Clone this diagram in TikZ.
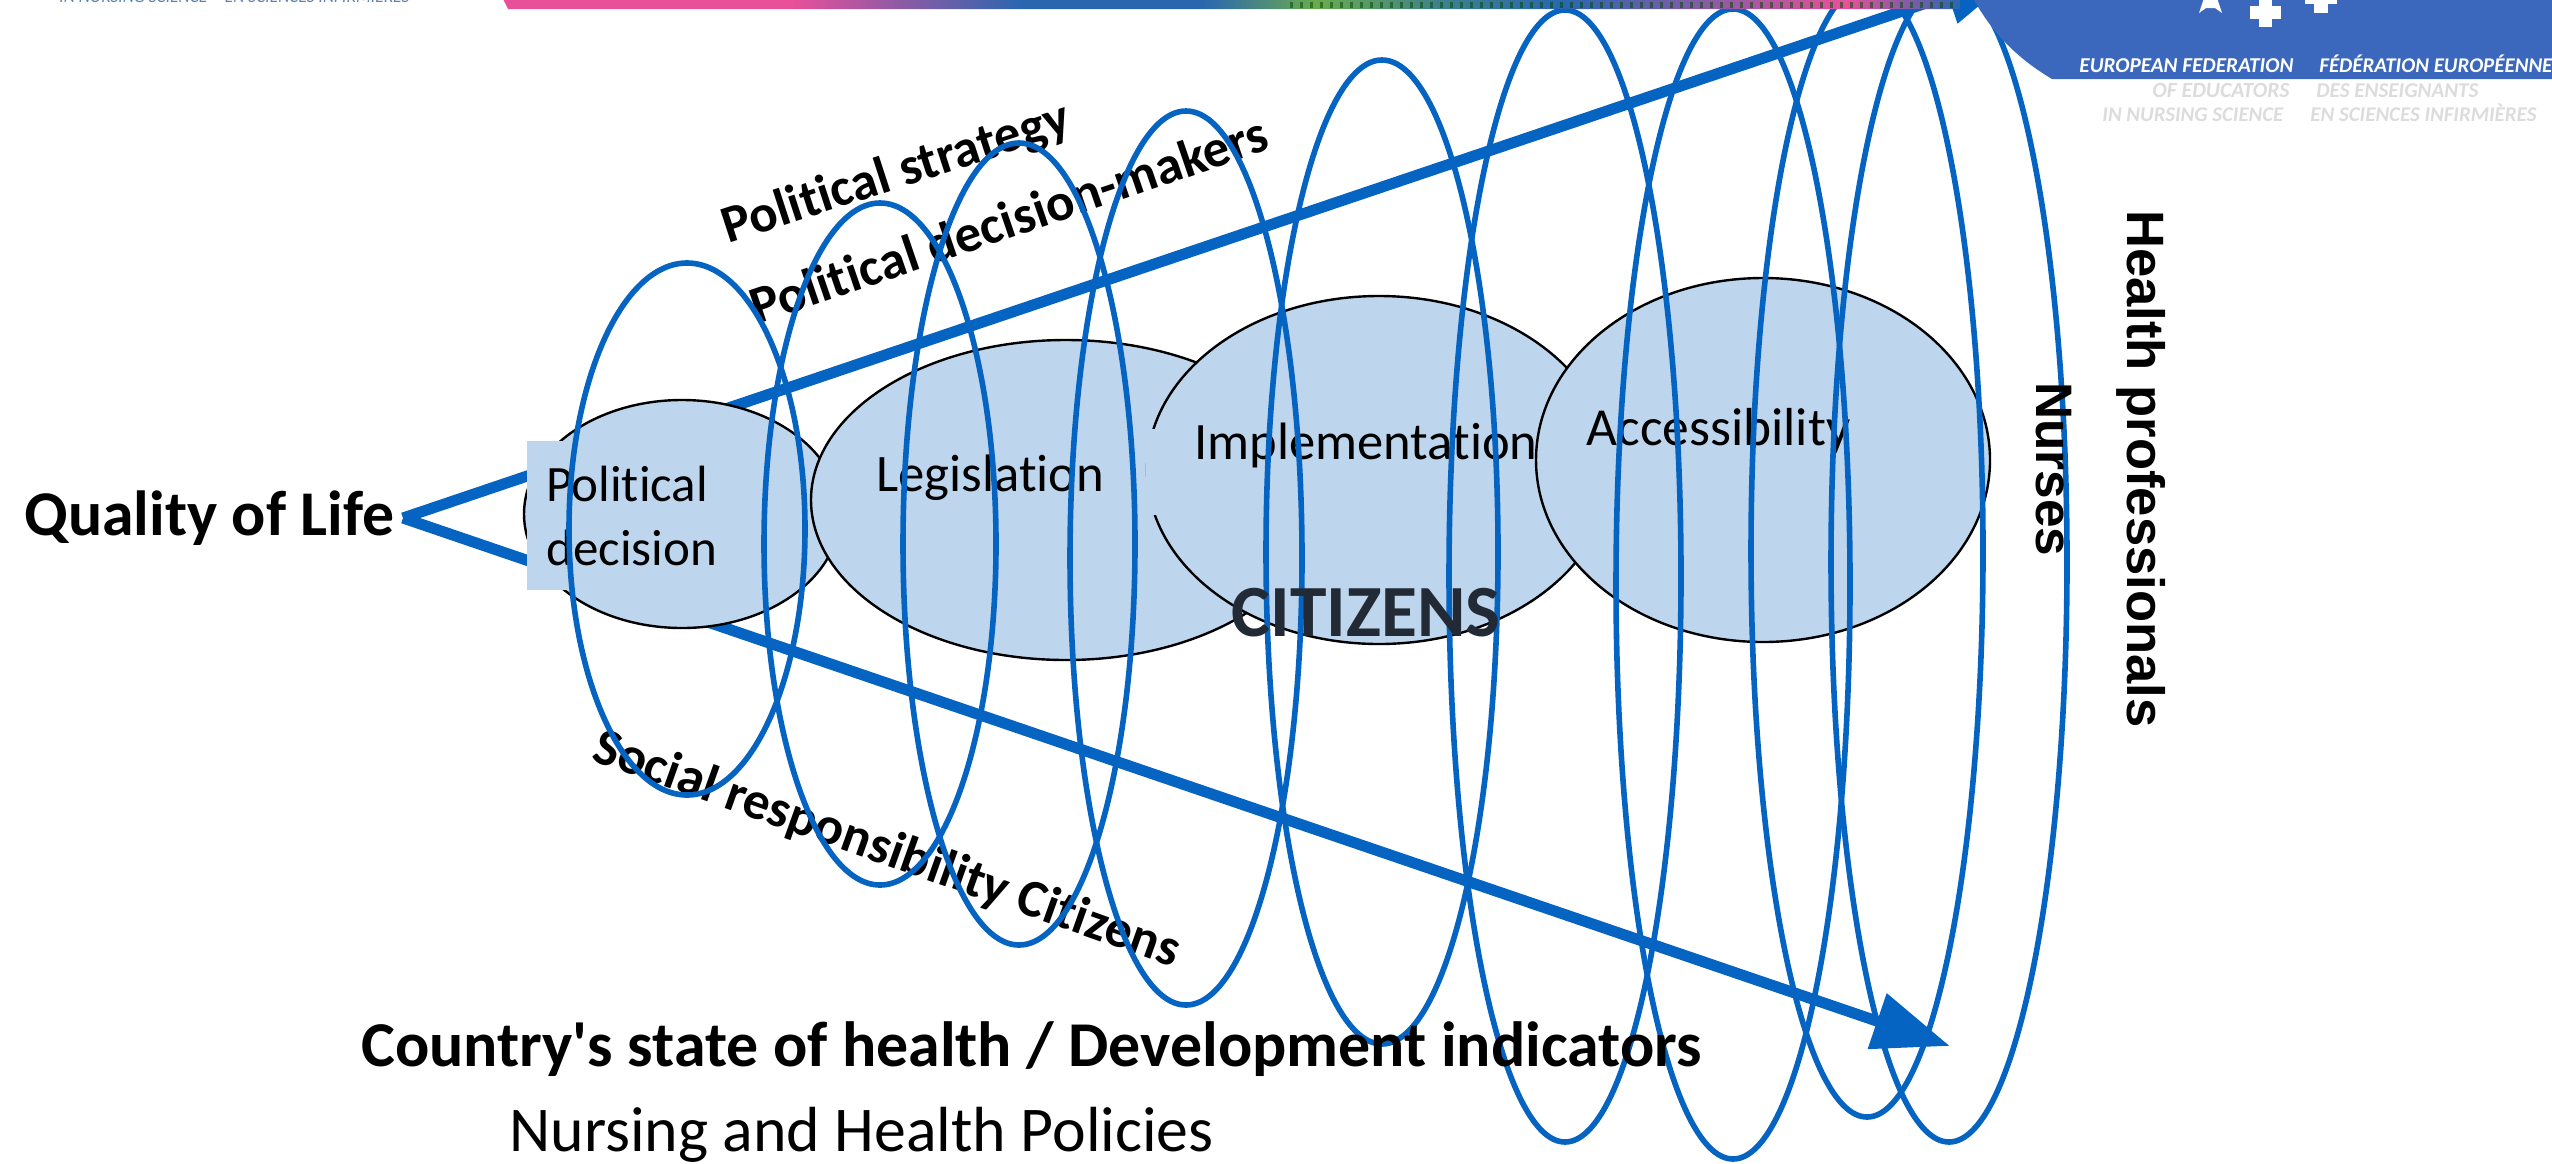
\documentclass[tikz,border=0pt]{standalone}
\usepackage{fontspec}
\usetikzlibrary{shapes.geometric,arrows.meta,shadings}
\defaultfontfeatures[\rmfamily]{Ligatures=NoCommon}
\setmainfont{Carlito}
\newfontfamily\arialfont{Liberation Sans}
\definecolor{ringblue}{HTML}{0563C1}
\definecolor{bubblefill}{HTML}{BDD6EE}
\definecolor{logoblue}{HTML}{3B68BC}
\definecolor{citizenink}{HTML}{222B35}
\definecolor{capblue}{HTML}{5E82AE}
\definecolor{ghostgrey}{HTML}{DCDCDC}
\definecolor{barpink}{HTML}{E8509A}
\definecolor{barblue}{HTML}{2A66B0}
\definecolor{bargreen}{HTML}{6BAA4F}
\definecolor{barteal}{HTML}{3F7F8F}
\pgfdeclarehorizontalshading{barshade}{100bp}{color(0bp)=(barpink); color(34.9bp)=(barpink); color(42.8bp)=(barblue); color(49bp)=(barblue); color(52.9bp)=(bargreen); color(57.3bp)=(barteal); color(61.4bp)=(barblue); color(71.1bp)=(barpink); color(75bp)=(barblue); color(100bp)=(barblue)}
% size in reference pixels (1 px = 0.5 pt)
\newcommand{\fitw}[2]{\resizebox{\dimexpr #1pt/2\relax}{!}{#2}}
\newcommand{\ovalnode}[6]{\node[#1,minimum width=#5*1pt,minimum height=#6*1pt] (#2) at (#3,#4) {};}
\tikzset{
  bubble/.style={ellipse,draw=black,line width=1.2pt,fill=bubblefill,inner sep=0pt},
  ring/.style={ellipse,draw=ringblue,line width=2.8pt,inner sep=0pt},
  axisline/.style={draw=ringblue,line width=5.5pt,-{Triangle[length=38.5pt,width=28pt]}},
  lab/.style={anchor=base west,inner sep=0pt,text=black},
  boldlab/.style={lab,font=\bfseries},
  armlab/.style={lab,font=\arialfont\bfseries,rotate=-90},
  logotext/.style={anchor=base west,inner sep=0pt,text=white,font=\itshape\bfseries},
  ghost/.style={anchor=base west,inner sep=0pt,text=ghostgrey,font=\itshape\bfseries}
}
\begin{document}
\begin{tikzpicture}[x=0.5pt,y=-0.5pt]
\useasboundingbox (0,0) rectangle (2552,1163);
\fill[white] (0,0) rectangle (2552,1163);
% arrows
\coordinate (apex) at (403,518);
\coordinate (toptip) at (2021,-29);
\coordinate (lowtip) at (1950,1046);
\draw[axisline] (apex) -- (toptip);
\draw[axisline] (apex) -- (lowtip);
% bubbles
\ovalnode{bubble}{bubA}{682}{514}{158}{114}
\fill[bubblefill] (527,441) rectangle (760,590);
\node[lab,font=\fontsize{25.5}{32}\selectfont,align=left,anchor=north west] (tPol) at (546,466) {Political\\decision};
\ovalnode{bubble}{bubB}{1066}{500}{255}{160}
\ovalnode{bubble}{bubC}{1379}{470}{232}{174}
\fill[bubblefill] (1146,429) rectangle (1300,515);
\ovalnode{bubble}{bubD}{1763}{460}{227}{182}
\node[lab] (tLeg) at (876,491) {\fitw{228}{Legislation}};
\node[lab] (tImp) at (1194,459) {\fitw{343}{Implementation}};
\node[lab] (tAcc) at (1586,445) {\fitw{264}{Accessibility}};
% slanted labels under the rings
\node[boldlab,rotate=18] (tStr) at (728,244) {\fitw{362}{Political strategy}};
\node[boldlab,rotate=18.9] (tMak) at (757,325) {\fitw{543}{Political decision-makers}};
\node[boldlab,rotate=-19.6] (tSoc) at (590,760) {\fitw{618}{Social responsibility Citizens}};
% rings
\ovalnode{ring}{r1}{687}{529}{118}{266}
\ovalnode{ring}{r2}{880}{544}{116}{341}
\ovalnode{ring}{r3}{1019}{544}{116}{401}
\ovalnode{ring}{r4}{1186}{558}{116}{447}
\ovalnode{ring}{r5}{1382}{552}{116}{492}
\ovalnode{ring}{r6}{1565}{576}{116}{566}
\ovalnode{ring}{r7}{1733}{584}{117}{575}
\ovalnode{ring}{r8}{1867}{551}{116}{566}
\ovalnode{ring}{r9}{1949}{562}{118}{580}
% main labels
\node[boldlab] (tQol) at (24,535) {\fitw{370}{Quality of Life}};
\node[boldlab,text=citizenink] (tCit) at (1231,636) {\fitw{269}{CITIZENS}};
\node[boldlab] (tCou) at (361,1066) {\fitw{1340}{Country's state of health / Development indicators}};
\node[lab] (tNur) at (509,1151) {\fitw{704}{Nursing and Health Policies}};
\node[armlab] (tNrs) at (2036,382) {\fitw{174}{Nurses}};
\node[armlab] (tHea) at (2127,210) {\fitw{517}{Health professionals}};
% top band
\path[shading=barshade] (503,-1) -- (508,9) -- (1960,9) -- (1960,-1) -- cycle;
\draw[line width=3pt,dash pattern=on 1.5pt off 3.5pt,black!70!green,opacity=.55] (1290,5) -- (1960,5);
\node[anchor=base west,inner sep=0pt,text=capblue] (tCapL) at (59,2) {\fitw{350}{\itshape IN NURSING SCIENCE\quad EN SCIENCES INFIRMIÈRES}};
% logo
\fill[logoblue] (1973,-2) .. controls (1993,35) and (2020,60) .. (2052,79) -- (2554,79) -- (2554,-2) -- cycle;
\fill[white] (2199,13) -- (2206,8) -- (2215,8) -- (2222,13) -- (2217,-2) -- (2204,-2) -- cycle;
\fill[white] (2259,-2) rectangle (2272,27);
\fill[white] (2250,6) rectangle (2281,19);
\fill[white] (2314,-2) rectangle (2328,13);
\fill[white] (2305,-2) rectangle (2337,4);
\node[logotext] (tEF) at (2079,72) {\fitw{214}{EUROPEAN FEDERATION}};
\node[logotext] (tFE) at (2319,72) {\fitw{233}{FÉDÉRATION EUROPÉENNE}};
\node[ghost] (gA) at (2152,97) {\fitw{137}{OF EDUCATORS}};
\node[ghost] (gB) at (2316,97) {\fitw{162}{DES ENSEIGNANTS}};
\node[ghost] (gC) at (2102,121) {\fitw{181}{IN NURSING SCIENCE}};
\node[ghost] (gD) at (2310,121) {\fitw{226}{EN SCIENCES INFIRMIÈRES}};
\end{tikzpicture}
\end{document}
